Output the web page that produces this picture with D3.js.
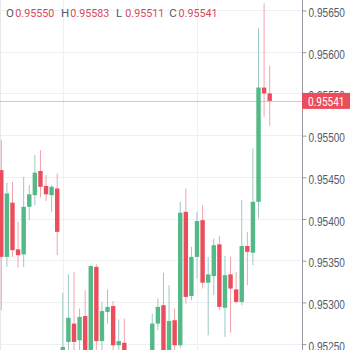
<!DOCTYPE html>
<html lang="en">
<head>
   <title>Candles</title>
   <style type="text/css">
       body{
           margin: 0;
           font-family: Roboto, "DejaVu Sans", sans-serif;
           background: #fff;
       }
       .grid line{
           stroke: #eef0f3;
           stroke-width: 1px;
       }
       .axis text{
           fill: #555a66;
           font-size: 12px;
       }
       .axis line{
           stroke: #9598a1;
       }
       .hdr{
           font-size: 11.5px;
       }
   </style>
</head>
<body>
<script src="https://d3js.org/d3.v7.min.js" charset="utf-8"></script>
<script>
    var opens  = [0.95458,0.95354,0.95419,0.95363,0.95357,0.95414,0.95428,0.95457,0.95439,0.95428,
                  0.95436,0.95230,0.95252,0.95274,0.95254,0.95283,0.95230,0.95342,0.95253,0.95288,
                  0.95295,0.95248,0.95251,0.95228,0.95218,0.95230,0.95220,0.95230,0.95274,0.95296,
                  0.95233,0.95278,0.95248,0.95408,0.95307,0.95354,0.95398,0.95323,0.95331,0.95369,
                  0.95293,0.95333,0.95315,0.95300,0.95367,0.95359,0.95420,0.95557,0.95550]
    var highs  = [0.95494,0.95443,0.95444,0.95396,0.95450,0.95440,0.95476,0.95482,0.95452,0.95440,
                  0.95454,0.95311,0.95333,0.95336,0.95292,0.95314,0.95344,0.95345,0.95300,0.95315,
                  0.95301,0.95279,0.95280,0.95238,0.95235,0.95239,0.95238,0.95286,0.95304,0.95335,
                  0.95320,0.95292,0.95420,0.95436,0.95366,0.95408,0.95416,0.95354,0.95376,0.95379,
                  0.95355,0.95354,0.95336,0.95422,0.95384,0.95484,0.95628,0.95658,0.95583]
    var lows   = [0.95290,0.95342,0.95354,0.95341,0.95342,0.95398,0.95416,0.95425,0.95421,0.95408,
                  0.95356,0.95224,0.95236,0.95236,0.95236,0.95224,0.95222,0.95240,0.95240,0.95274,
                  0.95236,0.95238,0.95220,0.95210,0.95205,0.95212,0.95208,0.95222,0.95266,0.95225,
                  0.95225,0.95236,0.95245,0.95298,0.95302,0.95328,0.95316,0.95260,0.95308,0.95290,
                  0.95258,0.95263,0.95298,0.95296,0.95320,0.95344,0.95400,0.95522,0.95511]
    var closes = [0.95354,0.95430,0.95362,0.95356,0.95414,0.95429,0.95455,0.95438,0.95429,0.95438,
                  0.95384,0.95246,0.95281,0.95252,0.95282,0.95233,0.95343,0.95253,0.95289,0.95294,
                  0.95248,0.95253,0.95228,0.95218,0.95230,0.95220,0.95232,0.95274,0.95294,0.95235,
                  0.95277,0.95248,0.95407,0.95306,0.95354,0.95397,0.95323,0.95333,0.95368,0.95294,
                  0.95332,0.95316,0.95300,0.95367,0.95360,0.95420,0.95557,0.95550,0.95541]

    var priceTicks = [0.95650,0.95600,0.95550,0.95500,0.95450,0.95400,0.95350,0.95300,0.95250]
    var timeGrid = [11, 35]
    var lastPrice = 0.95541
    var hdrKeys = ['O','H','L','C']

    var W = 350, H = 350, axisX = 302
    var up = '#53b987', down = '#eb4d5c'

    var candles = opens.map(function(o,i){
        return {i:i, o:o, h:highs[i], l:lows[i], c:closes[i]}
    })

    var x = d3.scaleLinear().domain([0, candles.length-1]).range([1.3, 269.7])
    var y = d3.scaleLinear().domain([0.95250, 0.95650]).range([343.6, 10])

    var svg = d3.select('body')
        .append('svg')
            .attr('width',W)
            .attr('height',H)

    var plot = svg.append('g')

    // grid
    var grid = plot.append('g').attr('class','grid')
    grid.selectAll('line.h')
        .data(priceTicks)
        .enter().append('line')
            .attr('class','h')
            .attr('x1',0).attr('x2',axisX)
            .attr('y1',function(d){return Math.round(y(d))+0.5})
            .attr('y2',function(d){return Math.round(y(d))+0.5})
    grid.selectAll('line.v')
        .data(timeGrid)
        .enter().append('line')
            .attr('class','v')
            .attr('x1',function(d){return Math.round(x(d))+0.5})
            .attr('x2',function(d){return Math.round(x(d))+0.5})
            .attr('y1',0).attr('y2',H)
    plot.append('line')
        .attr('x1',0.5).attr('x2',0.5).attr('y1',0).attr('y2',H)
        .attr('stroke','#e6e8ec')

    // price line
    plot.append('line')
        .attr('x1',0).attr('x2',axisX)
        .attr('y1',Math.round(y(lastPrice))+0.5)
        .attr('y2',Math.round(y(lastPrice))+0.5)
        .attr('stroke',down)
        .attr('stroke-opacity',0.4)

    // candles
    var cg = plot.append('g')
    cg.selectAll('line.wick')
        .data(candles)
        .enter().append('line')
            .attr('class','wick')
            .attr('x1',function(d){return x(d.i)})
            .attr('x2',function(d){return x(d.i)})
            .attr('y1',function(d){return y(d.h)})
            .attr('y2',function(d){return y(d.l)})
            .attr('stroke',function(d){return d.c>=d.o ? '#9cc8c4' : '#f2a3ad'})
            .attr('stroke-width',1)

    cg.selectAll('rect')
        .data(candles)
        .enter().append('rect')
            .attr('x',function(d){return x(d.i)-2.2})
            .attr('width',4.4)
            .attr('y',function(d){return y(Math.max(d.o,d.c))})
            .attr('height',function(d){return Math.max(1, Math.abs(y(d.o)-y(d.c)))})
            .attr('fill',function(d){return d.c>=d.o ? up : down})

    // price axis
    svg.append('rect')
        .attr('x',axisX).attr('y',0).attr('width',W-axisX).attr('height',H)
        .attr('fill','#fff')
    svg.append('line')
        .attr('x1',axisX+0.5).attr('x2',axisX+0.5).attr('y1',0).attr('y2',H)
        .attr('stroke','#9598a1')

    var axis = svg.append('g')
        .attr('class','axis')
        .attr('transform','translate(' + (axisX+0.5) + ',0.5)')
        .call(d3.axisRight(y)
            .tickValues(priceTicks)
            .tickFormat(d3.format('.5f'))
            .tickSize(4)
            .tickPadding(2))
    axis.select('.domain').remove()
    axis.selectAll('text')
        .attr('dy',null)
        .attr('y',6)
        .attr('textLength',36.5)
        .attr('lengthAdjust','spacingAndGlyphs')

    // last price label
    var ly = y(lastPrice)
    svg.append('rect')
        .attr('x',axisX).attr('y',ly-8).attr('width',W-axisX).attr('height',16)
        .attr('fill',down)
    svg.append('text')
        .attr('x',axisX+6).attr('y',ly+5.5)
        .attr('fill','#fff')
        .attr('font-size','12px')
        .attr('textLength',36.5)
        .attr('lengthAdjust','spacingAndGlyphs')
        .text(d3.format('.5f')(lastPrice))

    // OHLC header
    var last = candles[candles.length-1]
    var hdrVals = [last.o, last.h, last.l, last.c]
    var hdrX = [6, 61, 116, 169.3]
    var hdr = svg.append('g').attr('class','hdr')
    hdrKeys.forEach(function(k,i){
        hdr.append('text')
            .attr('x',hdrX[i]).attr('y',17.3)
            .attr('fill','#555a66')
            .text(k)
        hdr.append('text')
            .attr('x',hdrX[i]+9.3).attr('y',17.3)
            .attr('fill','#d9475a')
            .attr('textLength',39)
            .attr('lengthAdjust','spacingAndGlyphs')
            .text(d3.format('.5f')(hdrVals[i]))
    })
</script>
</body>
</html>
